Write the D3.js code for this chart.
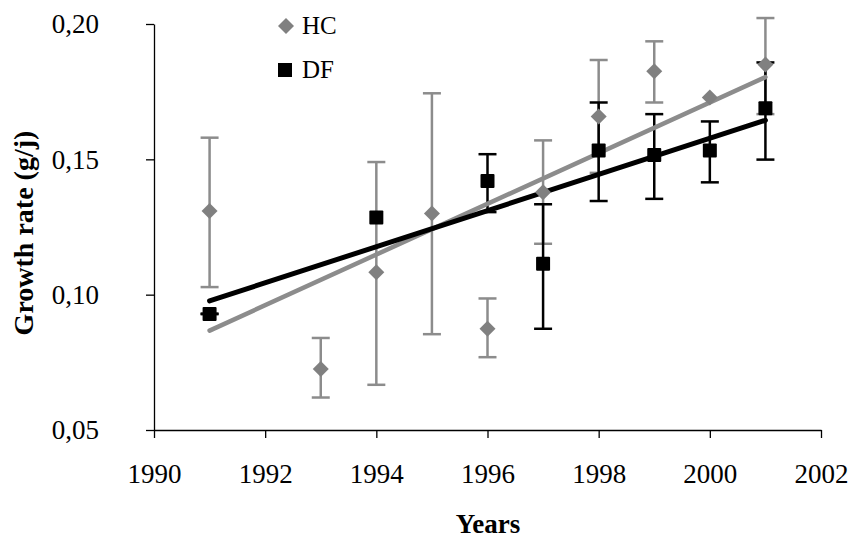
<!DOCTYPE html>
<html>
<head>
<meta charset="utf-8">
<script src="https://cdn.jsdelivr.net/npm/d3@7"></script>
<style>
body{margin:0;background:#fff;}
text{font-family:"Liberation Serif","Times New Roman",serif;}
</style>
</head>
<body>
<div id="chart"></div>
<script>
// values
var hcYears = [1991,1993,1994,1995,1996,1997,1998,1999,2000,2001];
var hcMean  = [0.1309,0.0725,0.1083,0.1300,0.0874,0.1378,0.1658,0.1825,0.1728,0.1850];
var hcLow   = [0.1028,0.0620,0.0667,0.0854,0.0769,0.1188,0.1450,0.1710,0.1728,0.1667];
var hcHigh  = [0.1580,0.0840,0.1490,0.1744,0.0986,0.1570,0.1867,0.1936,0.1728,0.2022];

var dfYears = [1991,1994,1996,1997,1998,1999,2000,2001];
var dfMean  = [0.0929,0.1285,0.1420,0.1114,0.1533,0.1516,0.1533,0.1689];
var dfLow   = [0.0928,0.1285,0.1305,0.0874,0.1346,0.1354,0.1415,0.1499];
var dfHigh  = [0.0930,0.1285,0.1519,0.1334,0.1710,0.1667,0.1640,0.1858];

var xTicks = [1990,1992,1994,1996,1998,2000,2002];
var yTicks = [0.05,0.10,0.15,0.20];

var W = 852, H = 540;
var margin = {top:24, right:31, bottom:110, left:154};

var svg = d3.select("#chart").append("svg").attr("width",W).attr("height",H);
var g = svg.append("g").attr("transform","translate("+margin.left+","+margin.top+")");
var w = W - margin.left - margin.right, h = H - margin.top - margin.bottom;

var x = d3.scaleLinear().domain([1990,2002]).range([0,w]);
var y = d3.scaleLinear().domain([0.05,0.20]).range([h,0]);

var fmt = function(d){ return d3.format(".2f")(d).replace(".",","); };

var xAxis = g.append("g").attr("transform","translate(0,"+h+")")
  .call(d3.axisBottom(x).tickValues(xTicks).tickFormat(d3.format("d")).tickSize(8).tickSizeOuter(0));
xAxis.selectAll("text").attr("font-size",27).attr("fill","#000").attr("y",0).attr("dy",53);
xAxis.selectAll("line,path").attr("stroke","#000").attr("stroke-width",1.3);

var yAxis = g.append("g")
  .call(d3.axisLeft(y).tickValues(yTicks).tickFormat(fmt).tickSize(8).tickSizeOuter(0));
yAxis.selectAll("text").attr("font-size",27).attr("fill","#000").attr("x",-55).attr("dy","0.33em");
yAxis.selectAll("line,path").attr("stroke","#000").attr("stroke-width",1.3);

// axis titles
svg.append("text").attr("x",488).attr("y",533).attr("text-anchor","middle")
  .attr("font-size",27).attr("font-weight","bold").text("Years");
svg.append("text").attr("transform","translate(33,233) rotate(-90)").attr("text-anchor","middle")
  .attr("font-size",28).attr("font-weight","bold").text("Growth rate (g/j)");

function regress(xs,ys){
  var mx=d3.mean(xs), my=d3.mean(ys), sxy=0, sxx=0;
  for(var i=0;i<xs.length;i++){ sxy+=(xs[i]-mx)*(ys[i]-my); sxx+=(xs[i]-mx)*(xs[i]-mx); }
  var b=sxy/sxx;
  return function(t){ return my + b*(t-mx); };
}

function errorBars(years,low,high,color){
  var e = g.append("g");
  years.forEach(function(yr,i){
    if(high[i]-low[i] < 0.0001) return;
    e.append("line").attr("x1",x(yr)).attr("x2",x(yr)).attr("y1",y(low[i])).attr("y2",y(high[i]))
      .attr("stroke",color).attr("stroke-width",2.5);
    [low[i],high[i]].forEach(function(v){
      e.append("line").attr("x1",x(yr)-9).attr("x2",x(yr)+9).attr("y1",y(v)).attr("y2",y(v))
        .attr("stroke",color).attr("stroke-width",2.5);
    });
  });
}

errorBars(hcYears,hcLow,hcHigh,"#8c8c8c");
errorBars(dfYears,dfLow,dfHigh,"#000");

// trend lines (least squares)
var hcFit = regress(hcYears,hcMean), dfFit = regress(dfYears,dfMean);
g.append("line").attr("x1",x(1991)).attr("x2",x(2001)).attr("y1",y(hcFit(1991))).attr("y2",y(hcFit(2001)))
  .attr("stroke","#8c8c8c").attr("stroke-width",4.5).attr("stroke-linecap","round");
g.append("line").attr("x1",x(1991)).attr("x2",x(2001)).attr("y1",y(dfFit(1991))).attr("y2",y(dfFit(2001)))
  .attr("stroke","#000").attr("stroke-width",5).attr("stroke-linecap","round");

// markers
function diamond(r){ return "M0,"+(-r)+"L"+r+",0L0,"+r+"L"+(-r)+",0Z"; }
g.selectAll(".sq").data(dfYears).enter().append("rect")
  .attr("x",function(d){return x(d)-7;}).attr("y",function(d,i){return y(dfMean[i])-7;})
  .attr("width",14).attr("height",14).attr("rx",1).attr("fill","#000");
g.selectAll(".dm").data(hcYears).enter().append("path")
  .attr("d",diamond(8)).attr("transform",function(d,i){return "translate("+x(d)+","+y(hcMean[i])+")";})
  .attr("fill","#808080");

// legend
svg.append("path").attr("d",diamond(8)).attr("transform","translate(286,26)").attr("fill","#808080");
svg.append("text").attr("x",302).attr("y",34).attr("font-size",25).text("HC");
svg.append("rect").attr("x",278).attr("y",63).attr("width",14).attr("height",14).attr("fill","#000");
svg.append("text").attr("x",302).attr("y",78).attr("font-size",25).text("DF");
</script>
</body>
</html>
